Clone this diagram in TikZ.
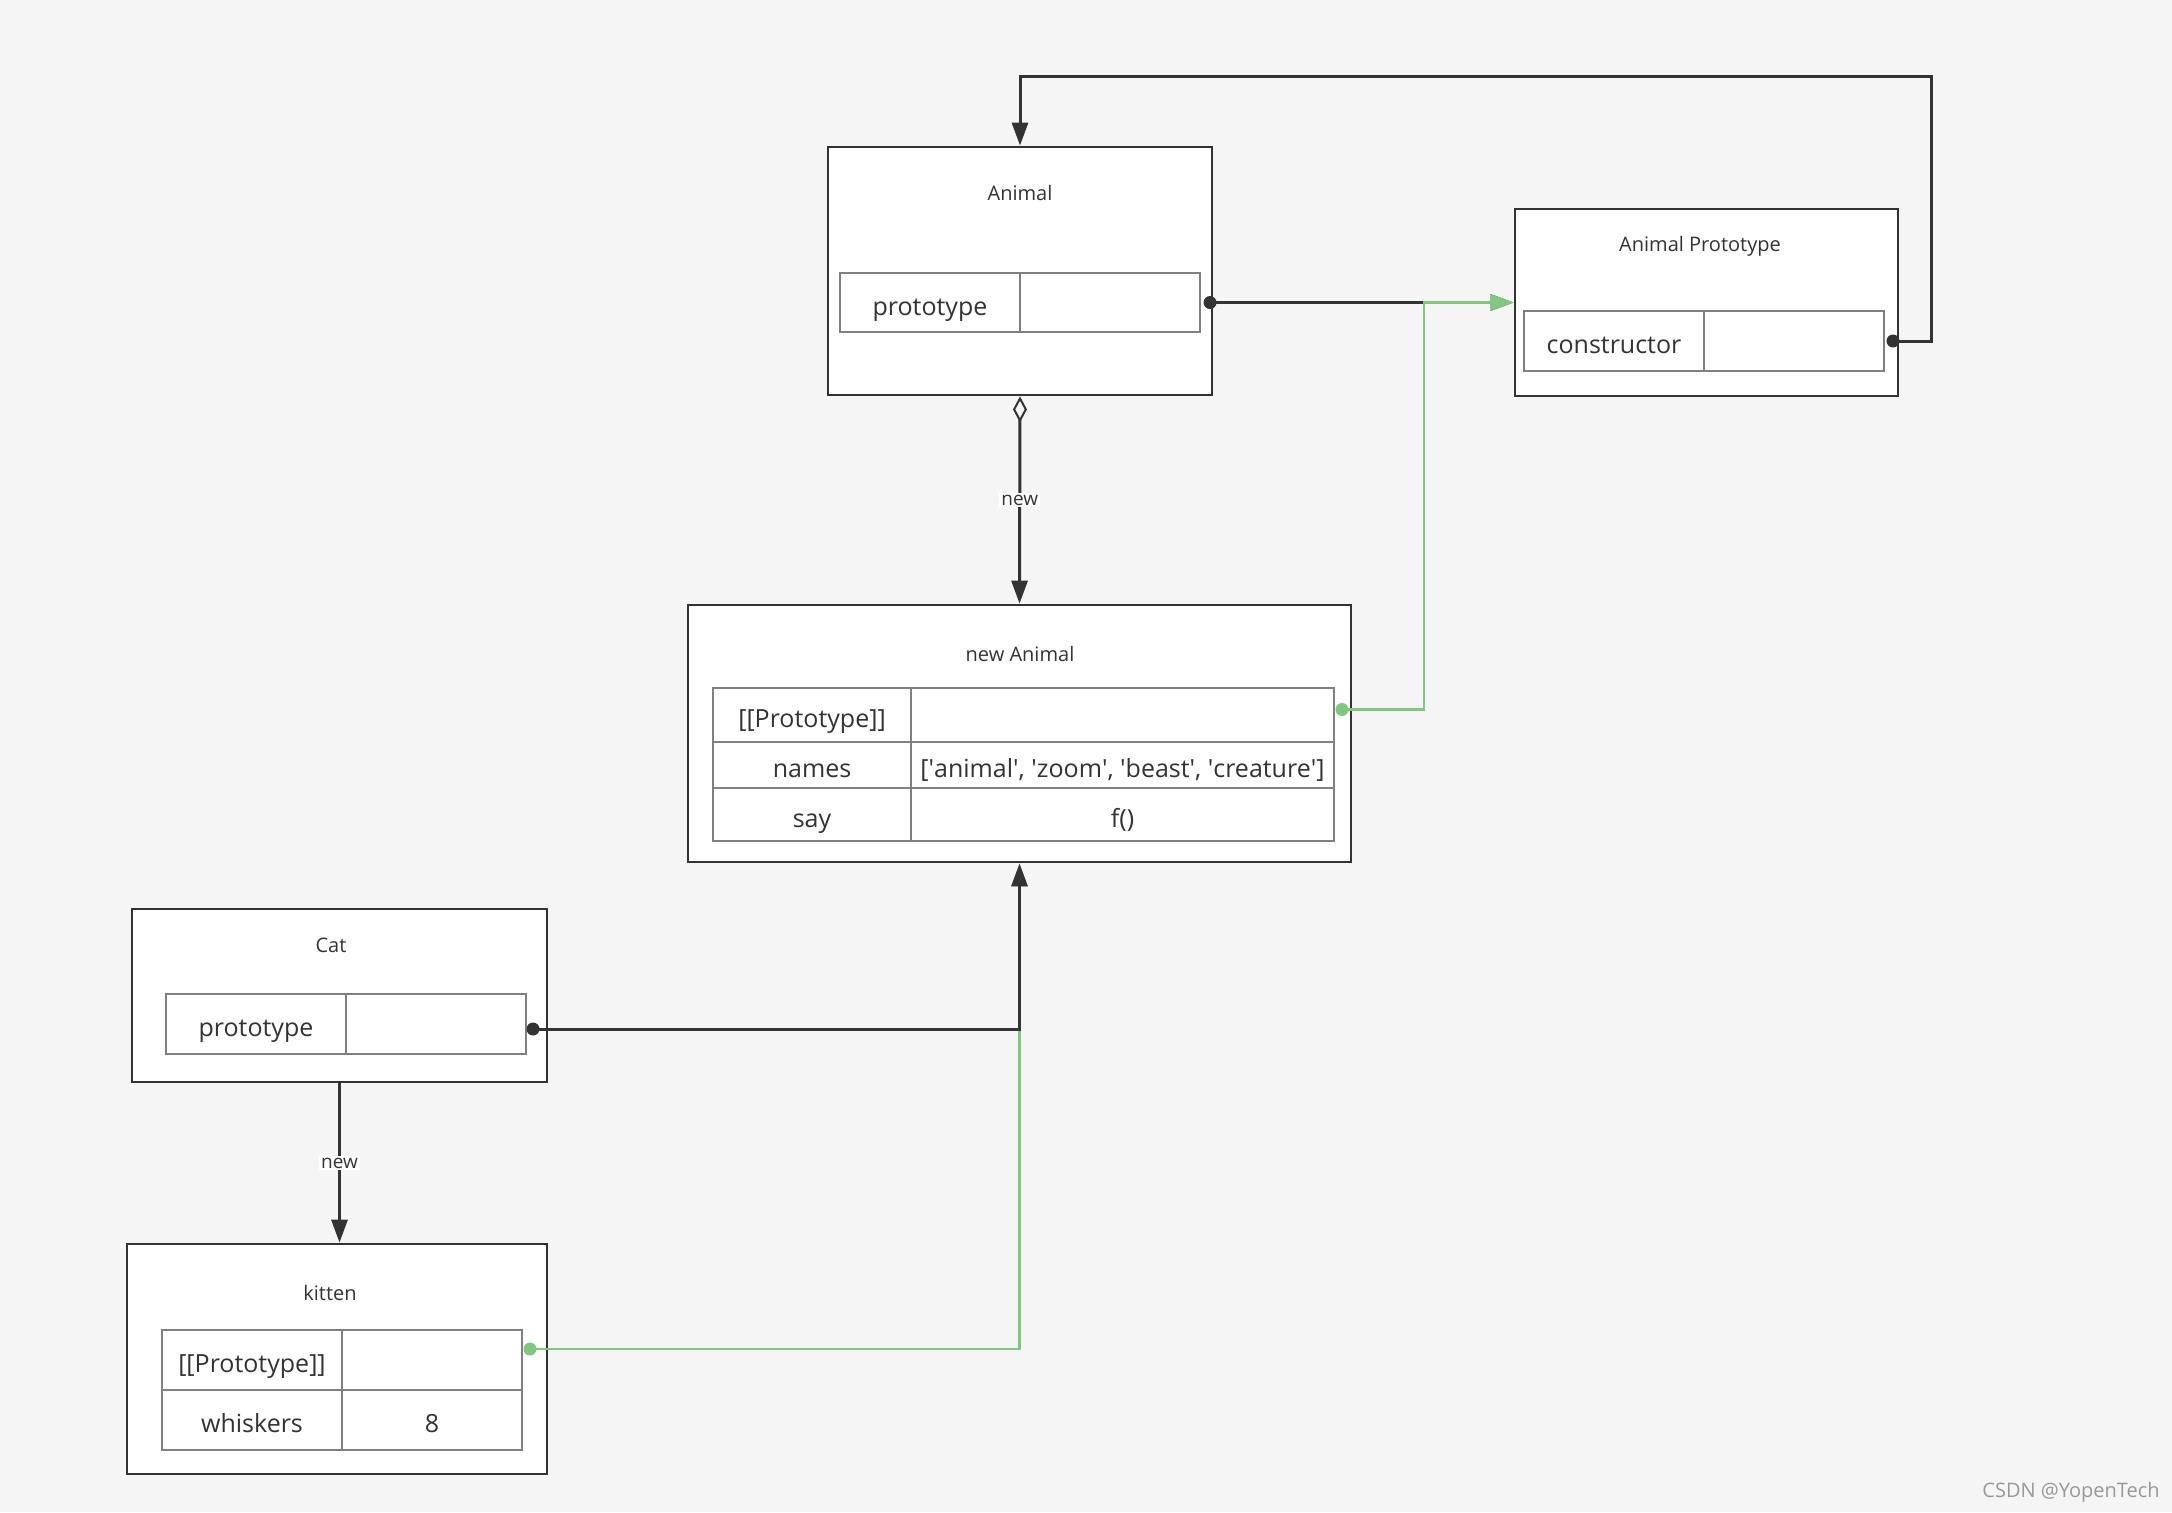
\documentclass[tikz,border=0pt]{standalone}
\usepackage{fontspec}
\setmainfont{Open Sans}
\usepackage{tikz}
\usetikzlibrary{arrows.meta,positioning,calc}
\definecolor{bgcol}{HTML}{F5F5F5}
\definecolor{inkcol}{HTML}{333333}
\definecolor{cellcol}{HTML}{808080}
\definecolor{linkgreen}{HTML}{80C880}
\newcommand{\sq}{\textquotesingle}
\tikzset{
  objbox/.style={draw=inkcol,line width=1.4pt,fill=white,inner sep=0pt},
  objtitle/.style={font=\fontsize{10}{12}\selectfont,text=inkcol},
  cellbox/.style={draw=cellcol,line width=0.7pt,fill=white,inner sep=0pt,outer sep=0pt,
    minimum width=90pt,minimum height=30pt,text height=12.5pt,text depth=0pt,
    font=\fontsize{12.5}{14}\selectfont,text=inkcol},
  ptrdot/.style={circle,fill=inkcol,minimum size=6.5pt,inner sep=0pt},
  ptrdotg/.style={ptrdot,fill=linkgreen},
  arcref/.style={line width=1.5pt,draw=inkcol,-{Triangle[length=11.5pt,width=8pt]}},
  arcproto/.style={line width=1.1pt,draw=linkgreen,-{Triangle[length=11.5pt,width=8pt]}},
  arcnew/.style={arcref,{Diamond[open,length=13pt,width=7pt,line width=1pt]}-{Triangle[length=11.5pt,width=8pt]}},
  arclab/.style={font=\fontsize{9.5}{11}\selectfont,fill=white,inner sep=1pt,text=inkcol,midway}
}

\begin{document}
\begin{tikzpicture}[x=0.5pt,y=-0.5pt]
  \fill[bgcol] (0,0) rectangle (2172,1512);
  \useasboundingbox (0,0) rectangle (2172,1512);
  % Animal
  \node[objbox,minimum width=192pt,minimum height=124pt] (animal) at (1020,271) {};
  \node[objtitle] (animalt) at (1020,193) {Animal};
  \node[cellbox,minimum height=29.5pt] (ank) at (930,302.5) {prototype};
  \node[cellbox,minimum height=29.5pt,right=0pt of ank] (anv) {};
  % Animal Prototype
  \node[objbox,minimum width=191.5pt,minimum height=93.5pt] (aproto) at (1706.5,302.5) {};
  \node[objtitle] (aprotot) at (1700,246) {Animal Prototype};
  \node[cellbox] (apk) at (1614,341) {constructor};
  \node[cellbox,right=0pt of apk] (apv) {};
  % new Animal
  \node[objbox,minimum width=331.5pt,minimum height=128.5pt] (inst) at (1019.5,733.5) {};
  \node[objtitle] (instt) at (1020,654) {new Animal};
  \node[cellbox,minimum width=99pt,minimum height=27pt] (ik1) at (812,715) {[[Prototype]]};
  \node[cellbox,minimum width=211.5pt,minimum height=27pt,right=0pt of ik1] (iv1) {};
  \node[cellbox,minimum width=99pt,minimum height=23pt,below=0pt of ik1] (ik2) {names};
  \node[cellbox,minimum width=211.5pt,minimum height=23pt,right=0pt of ik2] (iv2) {[\sq animal\sq, \sq zoom\sq, \sq beast\sq, \sq creature\sq]};
  \node[cellbox,minimum width=99pt,minimum height=26.5pt,below=0pt of ik2] (ik3) {say};
  \node[cellbox,minimum width=211.5pt,minimum height=26.5pt,right=0pt of ik3] (iv3) {f()};
  % Cat
  \node[objbox,minimum width=207.5pt,minimum height=86.5pt] (cat) at (339.5,995.5) {};
  \node[objtitle] (catt) at (331,945) {Cat};
  \node[cellbox] (ck) at (256,1024) {prototype};
  \node[cellbox,right=0pt of ck] (cv) {};
  % kitten
  \node[objbox,minimum width=210pt,minimum height=115pt] (kitten) at (337,1359) {};
  \node[objtitle] (kittent) at (330,1293) {kitten};
  \node[cellbox] (kk1) at (252,1360) {[[Prototype]]};
  \node[cellbox,right=0pt of kk1] (kv1) {};
  \node[cellbox,below=0pt of kk1] (kk2) {whiskers};
  \node[cellbox,right=0pt of kk2] (kv2) {8};
  % pointer dots
  \node[ptrdot] (andot) at ([xshift=5pt]anv.east) {};
  \node[ptrdot] (apdot) at ([xshift=4.5pt]apv.east) {};
  \node[ptrdotg] (idot) at ([xshift=4pt,yshift=2.75pt]iv1.east) {};
  \node[ptrdot] (catdot) at ([xshift=3.5pt,yshift=-2.5pt]cv.east) {};
  \node[ptrdotg] (kdot) at ([xshift=4pt,yshift=5.5pt]kv1.east) {};
  % links
  \draw[arcref] (andot.center) -- (aproto.west |- andot.center);
  \draw[arcproto] (idot.center) -- ++(82,0) |- (aproto.west |- andot.center);
  \draw[arcref] (apdot.center) -- ++(38,0) -- ++(0,-265) -| (animal.north);
  \draw[arcnew] (animal.south) -- node[arclab]{new} (inst.north);
  \draw[arcproto] (kdot.center) -| (inst.south);
  \draw[arcref] (catdot.center) -| (inst.south);
  \draw[arcref] (cat.south) -- node[arclab]{new} (cat.south |- kitten.north);
  \node[font=\fontsize{10}{12}\selectfont,text=black!40] (mark) at (2071,1492) {CSDN @YopenTech};
\end{tikzpicture}
\end{document}
